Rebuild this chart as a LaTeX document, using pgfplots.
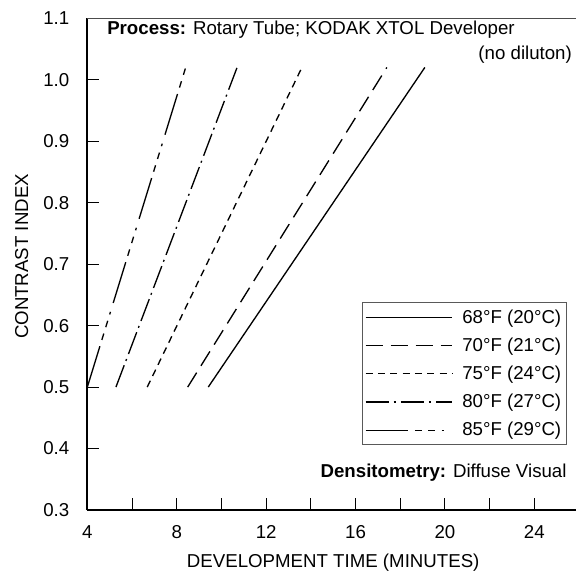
\documentclass[border=0pt]{standalone}
\usepackage{pgfplots}
\pgfplotsset{compat=1.18}
\usepackage{fontspec}
\setmainfont{Liberation Sans}

\newcommand{\lbl}{\fontsize{14}{16}\selectfont}

\begin{document}
\begin{tikzpicture}
\begin{axis}[
  at={(65.5pt,49.5pt)}, anchor=south west,
  width=368.8pt, height=368.8pt, scale only axis,
  xmin=4, xmax=26, ymin=0.3, ymax=1.1,
  axis x line*=bottom, axis y line*=left,
  axis line style={line width=1.5pt, -},
  xtick={4,8,...,24}, minor xtick={6,10,...,26},
  ytick={0.3,0.4,0.5,0.6,0.7,0.8,0.9,1.0,1.1},
  tick align=inside,
  major tick length=9pt, minor tick length=9pt,
  tick style={black, line width=0.75pt},
  ticklabel style={font=\lbl},
  /pgf/number format/assume math mode=true,
  yticklabel style={/pgf/number format/fixed, /pgf/number format/fixed zerofill,
    /pgf/number format/precision=1, xshift=-10pt},
  xticklabel style={yshift=-8pt},
  xlabel={DEVELOPMENT TIME (MINUTES)},
  ylabel={CONTRAST INDEX},
  label style={font=\lbl},
  xlabel style={at={(axis description cs:0.5,-0.108)}, anchor=center},
  ylabel style={at={(axis description cs:-0.1334,0.5156)}, anchor=center},
  legend cell align=left,
  legend image code/.code={\draw[#1, line width=1pt] (0pt,0pt) -- (65pt,0pt);},
  legend style={draw=gray!70!black, line width=0.75pt, fill=white, font=\lbl,
    at={(rel axis cs:0.9756,0.422)}, anchor=north east,
    row sep=5.5pt, inner xsep=2pt, inner ysep=3pt},
  clip=false,
]
\addplot[black, line width=1pt] coordinates {(9.41,0.5) (19.10,1.02)};
\addlegendentry{\hspace{5pt}68°F (20°C)}
\addplot[black, line width=1pt, dash pattern=on 12.75pt off 6pt] coordinates {(8.49,0.5) (17.40,1.02)};
\addlegendentry{\hspace{5pt}70°F (21°C)}
\addplot[black, line width=1pt, dash pattern=on 5.25pt off 4pt] coordinates {(6.68,0.5) (13.60,1.02)};
\addlegendentry{\hspace{5pt}75°F (24°C)}
\addplot[black, line width=1pt, dash pattern=on 17.5pt off 3.5pt on 1.5pt off 4pt] coordinates {(5.28,0.5) (10.70,1.02)};
\addlegendentry{\hspace{5pt}80°F (27°C)}
\addplot[black, line width=1pt, dash pattern=on 32pt off 5pt on 5pt off 5pt on 5pt off 5pt on 2pt off 7pt] coordinates {(4.0,0.5) (8.40,1.02)};
\addlegendentry{\hspace{5pt}85°F (29°C)}

\draw[gray!60!black, line width=0.75pt] (rel axis cs:0,1) -- (rel axis cs:1,1) -- (rel axis cs:1,0);
\node[anchor=west, font=\lbl, inner sep=0pt] at (axis cs:4.88,1.081) {\textbf{Process:} Rotary Tube; KODAK XTOL Developer};
\node[anchor=east, font=\lbl, inner sep=0pt] at (axis cs:25.69,1.040) {(no diluton)};
\node[anchor=east, font=\lbl, inner sep=0pt] at (axis cs:25.45,0.360) {\textbf{Densitometry:} Diffuse Visual};
\end{axis}
\pgfresetboundingbox
\path[use as bounding box] (0pt,0pt) rectangle (432pt,432pt);
\end{tikzpicture}
\end{document}
